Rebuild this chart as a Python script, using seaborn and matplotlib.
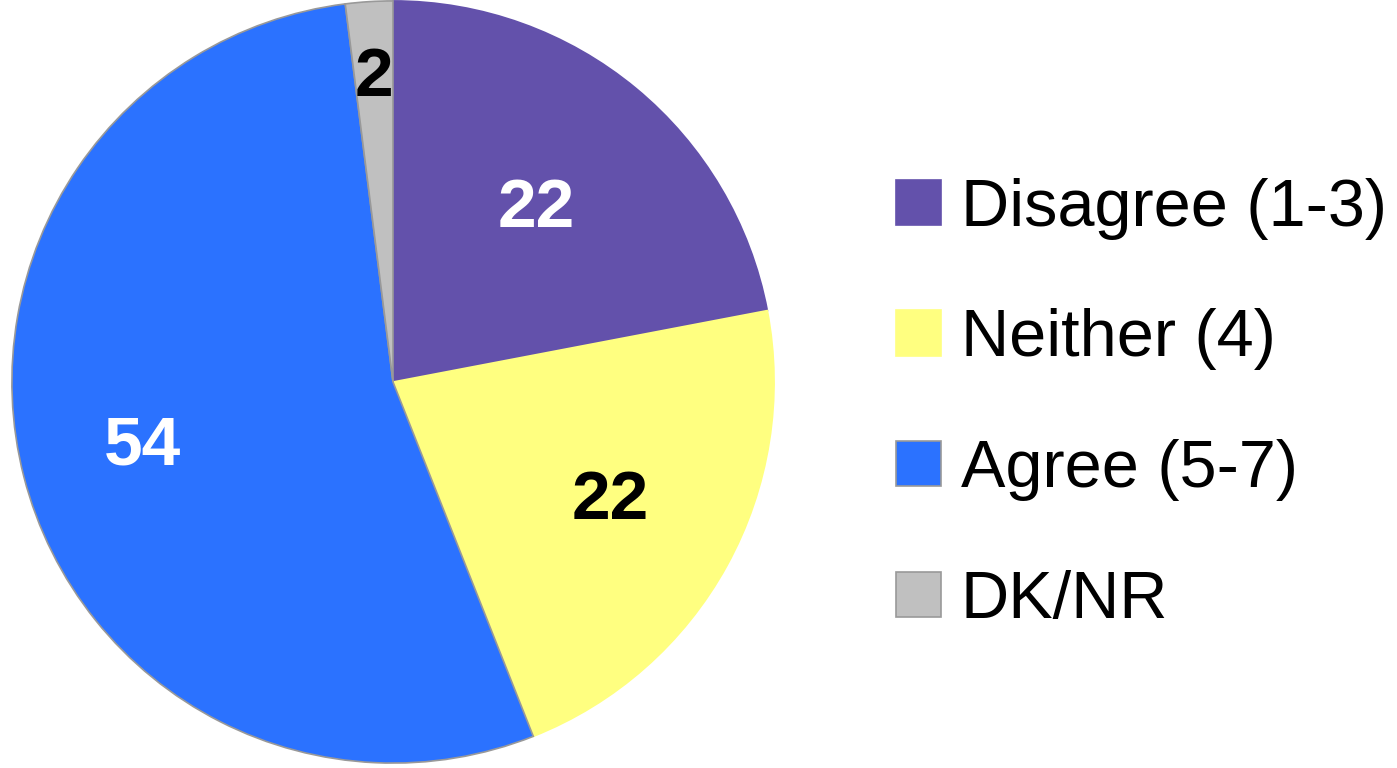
import numpy as np
import seaborn as sns
import matplotlib.pyplot as plt

categories = ['Disagree (1-3)', 'Neither (4)', 'Agree (5-7)', 'DK/NR']
values = [22, 22, 54, 2]
colors = ['#6351AB', '#FFFF80', '#2B72FF', '#C0C0C0']
edges = ['#6351AB', '#FFFF80', '#999999', '#999999']
label_colors = ['white', 'black', 'white', 'black']
label_radius = [0.59, 0.65, 0.68, 0.80]


def main():
    sns.set_theme(style='white')
    plt.rcParams['font.family'] = ['Liberation Sans', 'DejaVu Sans']

    fig = plt.figure(figsize=(13.97, 7.68), dpi=100)
    ax = fig.add_axes([10 / 1397, 3 / 768, 766 / 1397, 766 / 768])

    wedges, _ = ax.pie(values, colors=colors, startangle=90, counterclock=False,
                       wedgeprops=dict(linewidth=1.2))
    for w, ec in zip(wedges, edges):
        w.set_edgecolor(ec)

    for w, v, c, r in zip(wedges, values, label_colors, label_radius):
        ang = np.deg2rad((w.theta1 + w.theta2) / 2)
        ax.text(r * np.cos(ang), r * np.sin(ang), str(v), color=c,
                fontsize=50, fontweight='bold', ha='center', va='center')
    ax.set_xlim(-1.005, 1.005)
    ax.set_ylim(-1.005, 1.005)
    ax.set_aspect('equal')

    fig.legend(wedges, categories, loc='center left',
               bbox_to_anchor=(896 / 1397, 0.473), frameon=False,
               fontsize=48, labelcolor='black',
               handlelength=0.675, handleheight=0.675,
               handletextpad=0.3, labelspacing=1.03, borderpad=0,
               borderaxespad=0)

    plt.savefig('out.png', dpi=100)


if __name__ == '__main__':
    main()
